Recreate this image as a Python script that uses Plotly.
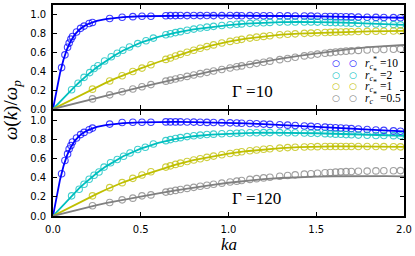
import plotly.graph_objects as go

# ---------------- data ----------------
# marker k*a positions shared above ka~0.6
X_HI = [0.643, 0.669, 0.698, 0.726, 0.764, 0.802, 0.839, 0.877, 0.915, 0.962,
        1.009, 1.047, 1.075, 1.122, 1.160, 1.200, 1.236, 1.292, 1.337, 1.380,
        1.432, 1.470, 1.507, 1.550, 1.580, 1.610, 1.640, 1.670, 1.700, 1.740,
        1.790, 1.840, 1.885, 1.940, 1.980]
X_LO_B = [0.049, 0.068, 0.083, 0.092, 0.102, 0.111, 0.134, 0.157, 0.177, 0.206,
          0.225, 0.323, 0.394, 0.455, 0.507, 0.558]
X_LO_C10 = [0.106, 0.143, 0.177, 0.209, 0.234, 0.256, 0.294, 0.332, 0.366, 0.398,
            0.436, 0.483, 0.530, 0.572]
X_LO_C120 = [0.106, 0.149, 0.177, 0.206, 0.234, 0.262, 0.291, 0.328, 0.366, 0.402,
             0.439, 0.483, 0.526, 0.572]
X_LO_YG = [0.225, 0.323, 0.394, 0.455, 0.507, 0.558]

# Gamma = 10 markers
b10_lo = [0.438, 0.573, 0.653, 0.697, 0.739, 0.767, 0.815, 0.853, 0.877, 0.905,
          0.915, 0.957, 0.971, 0.977, 0.981, 0.981]
b10_hi = [0.987, 0.988, 0.988, 0.989, 0.988, 0.989, 0.988, 0.989, 0.988, 0.988,
          0.989, 0.988, 0.987, 0.988, 0.987, 0.987, 0.986, 0.986, 0.985, 0.984,
          0.983, 0.982, 0.981, 0.979, 0.978, 0.977, 0.976, 0.975, 0.974, 0.972,
          0.971, 0.969, 0.968, 0.966, 0.965]
c10_lo = [0.204, 0.272, 0.335, 0.385, 0.428, 0.458, 0.508, 0.552, 0.590, 0.621,
          0.656, 0.692, 0.722, 0.750]
c10_hi = [0.785, 0.796, 0.808, 0.818, 0.833, 0.845, 0.856, 0.866, 0.874, 0.883,
          0.891, 0.896, 0.900, 0.906, 0.910, 0.913, 0.916, 0.919, 0.920, 0.921,
          0.921, 0.920, 0.919, 0.917, 0.916, 0.914, 0.912, 0.910, 0.908, 0.905,
          0.902, 0.899, 0.896, 0.893, 0.890]
y10_lo = [0.210, 0.297, 0.352, 0.397, 0.433, 0.468]
y10_hi = [0.525, 0.540, 0.560, 0.578, 0.600, 0.622, 0.642, 0.660, 0.678, 0.698,
          0.715, 0.728, 0.737, 0.750, 0.760, 0.768, 0.775, 0.785, 0.790, 0.795,
          0.800, 0.803, 0.806, 0.809, 0.811, 0.813, 0.815, 0.816, 0.817, 0.819,
          0.821, 0.822, 0.823, 0.825, 0.826]
g10_lo = [0.107, 0.150, 0.183, 0.212, 0.235, 0.258]
g10_hi = [0.295, 0.306, 0.318, 0.330, 0.345, 0.360, 0.374, 0.388, 0.402, 0.418,
          0.434, 0.447, 0.456, 0.471, 0.483, 0.495, 0.506, 0.522, 0.535, 0.548,
          0.562, 0.572, 0.581, 0.590, 0.596, 0.602, 0.607, 0.612, 0.616, 0.620,
          0.624, 0.627, 0.629, 0.632, 0.634]

# Gamma = 120 markers
b120_lo = [0.442, 0.581, 0.650, 0.702, 0.737, 0.775, 0.816, 0.852, 0.875, 0.903,
           0.920, 0.962, 0.979, 0.982, 0.982, 0.982]
b120_hi = [0.985, 0.985, 0.985, 0.985, 0.984, 0.983, 0.982, 0.980, 0.979, 0.977,
           0.975, 0.973, 0.971, 0.968, 0.965, 0.962, 0.959, 0.955, 0.951, 0.947,
           0.942, 0.938, 0.934, 0.930, 0.927, 0.924, 0.921, 0.918, 0.915, 0.911,
           0.906, 0.901, 0.896, 0.891, 0.887]
c120_lo = [0.211, 0.280, 0.332, 0.384, 0.426, 0.460, 0.512, 0.557, 0.592, 0.626,
           0.660, 0.696, 0.720, 0.754]
c120_hi = [0.789, 0.800, 0.811, 0.820, 0.831, 0.840, 0.847, 0.853, 0.857, 0.861,
           0.864, 0.867, 0.869, 0.871, 0.872, 0.873, 0.873, 0.873, 0.872, 0.871,
           0.869, 0.867, 0.865, 0.862, 0.860, 0.857, 0.855, 0.852, 0.850, 0.847,
           0.845, 0.843, 0.842, 0.841, 0.840]
y120_lo = [0.211, 0.297, 0.349, 0.394, 0.429, 0.463]
y120_hi = [0.512, 0.525, 0.540, 0.553, 0.570, 0.586, 0.600, 0.614, 0.627, 0.641,
           0.655, 0.665, 0.672, 0.683, 0.691, 0.698, 0.704, 0.711, 0.716, 0.720,
           0.723, 0.725, 0.726, 0.727, 0.728, 0.728, 0.728, 0.728, 0.728, 0.728,
           0.727, 0.727, 0.726, 0.725, 0.724]
g120_lo = [0.107, 0.141, 0.169, 0.187, 0.211, 0.221]
g120_hi = [0.250, 0.258, 0.268, 0.277, 0.289, 0.300, 0.311, 0.322, 0.332, 0.344,
           0.356, 0.365, 0.372, 0.383, 0.391, 0.399, 0.406, 0.416, 0.424, 0.431,
           0.438, 0.443, 0.448, 0.453, 0.456, 0.459, 0.462, 0.464, 0.466, 0.468,
           0.470, 0.472, 0.473, 0.474, 0.475]

# theory curves
LX = [0, 0.01, 0.02, 0.03, 0.04, 0.06, 0.08, 0.10, 0.125, 0.15, 0.175, 0.2, 0.25,
      0.3, 0.35, 0.4, 0.5, 0.6, 0.7, 0.8, 0.9, 1.0, 1.1, 1.2, 1.3, 1.4, 1.5, 1.6,
      1.7, 1.8, 1.9, 2.0]
lb10 = [0, 0.102, 0.201, 0.294, 0.380, 0.524, 0.634, 0.716, 0.789, 0.839, 0.874,
        0.899, 0.932, 0.951, 0.963, 0.972, 0.981, 0.986, 0.988, 0.988, 0.989, 0.989,
        0.988, 0.987, 0.986, 0.984, 0.981, 0.978, 0.975, 0.971, 0.968, 0.965]
lc10 = [0, 0.020, 0.039, 0.059, 0.079, 0.117, 0.156, 0.193, 0.239, 0.283, 0.326,
        0.366, 0.442, 0.509, 0.567, 0.619, 0.702, 0.763, 0.809, 0.843, 0.868, 0.888,
        0.902, 0.912, 0.918, 0.921, 0.920, 0.916, 0.910, 0.903, 0.896, 0.889]
ly10 = [0, 0.0095, 0.019, 0.028, 0.038, 0.057, 0.076, 0.095, 0.118, 0.142, 0.165,
        0.188, 0.233, 0.277, 0.318, 0.358, 0.430, 0.497, 0.562, 0.620, 0.670, 0.712,
        0.745, 0.768, 0.786, 0.797, 0.805, 0.812, 0.817, 0.821, 0.824, 0.827]
lg10 = [0, 0.0048, 0.0096, 0.0144, 0.019, 0.029, 0.038, 0.048, 0.060, 0.071, 0.083,
        0.095, 0.118, 0.141, 0.164, 0.186, 0.231, 0.275, 0.318, 0.359, 0.398, 0.435,
        0.470, 0.503, 0.534, 0.563, 0.590, 0.615, 0.637, 0.655, 0.668, 0.677]
lb120 = [0, 0.102, 0.201, 0.294, 0.380, 0.524, 0.634, 0.716, 0.789, 0.839, 0.874,
         0.899, 0.932, 0.951, 0.963, 0.972, 0.981, 0.985, 0.985, 0.983, 0.980, 0.976,
         0.970, 0.962, 0.954, 0.945, 0.935, 0.925, 0.915, 0.905, 0.895, 0.886]
lc120 = [0, 0.020, 0.040, 0.060, 0.080, 0.120, 0.160, 0.199, 0.246, 0.291, 0.334,
         0.374, 0.450, 0.517, 0.575, 0.625, 0.706, 0.765, 0.807, 0.835, 0.852, 0.862,
         0.868, 0.872, 0.872, 0.870, 0.866, 0.861, 0.855, 0.849, 0.844, 0.840]
ly120 = [0, 0.0095, 0.019, 0.028, 0.038, 0.057, 0.076, 0.095, 0.118, 0.142, 0.165,
         0.188, 0.232, 0.275, 0.315, 0.353, 0.420, 0.483, 0.538, 0.584, 0.622, 0.654,
         0.678, 0.697, 0.711, 0.720, 0.726, 0.728, 0.728, 0.727, 0.725, 0.723]
lg120 = [0, 0.0048, 0.0096, 0.0144, 0.019, 0.029, 0.038, 0.048, 0.060, 0.071, 0.083,
         0.095, 0.115, 0.135, 0.153, 0.171, 0.206, 0.238, 0.268, 0.298, 0.324, 0.348,
         0.368, 0.385, 0.398, 0.407, 0.413, 0.416, 0.418, 0.418, 0.417, 0.415]

LABELS = ["10", "2", "1", "0.5"]
COLORS = ["#0000ff", "#00bfbf", "#bfbf00", "#808080"]
GAMMA_LABELS = ["Γ =10", "Γ =120"]

panels = [
    dict(xa="x", ya="y",
         markers=[(X_LO_B + X_HI, b10_lo + b10_hi), (X_LO_C10 + X_HI, c10_lo + c10_hi),
                  (X_LO_YG + X_HI, y10_lo + y10_hi), (X_LO_YG + X_HI, g10_lo + g10_hi)],
         lines=[lb10, lc10, ly10, lg10]),
    dict(xa="x2", ya="y2",
         markers=[(X_LO_B + X_HI, b120_lo + b120_hi), (X_LO_C120 + X_HI, c120_lo + c120_hi),
                  (X_LO_YG + X_HI, y120_lo + y120_hi), (X_LO_YG + X_HI, g120_lo + g120_hi)],
         lines=[lb120, lc120, ly120, lg120]),
]

fig = go.Figure()
for p in panels:
    for i, col in enumerate(COLORS):
        fig.add_trace(go.Scatter(x=LX, y=p["lines"][i], mode="lines",
                                 line=dict(color=col, width=1.8),
                                 xaxis=p["xa"], yaxis=p["ya"], showlegend=False,
                                 hoverinfo="skip"))
    for i, col in enumerate(COLORS):
        mx, my = p["markers"][i]
        fig.add_trace(go.Scatter(x=mx, y=my, mode="markers",
                                 marker=dict(symbol="circle-open", size=6.5, color=col,
                                             line=dict(width=1.1, color=col), opacity=0.75),
                                 xaxis=p["xa"], yaxis=p["ya"], showlegend=False))

axis_common = dict(range=[0, 2], showline=True, linecolor="black", linewidth=1.6,
                   mirror="ticks", ticks="inside", ticklen=4, tickwidth=1,
                   tickcolor="black", showgrid=False, zeroline=False,
                   tickfont=dict(family="DejaVu Sans", size=10, color="black"))
yaxis_common = dict(range=[0, 1.1], showline=True, linecolor="black", linewidth=1.6,
                    mirror="ticks", ticks="inside", ticklen=4, tickwidth=1,
                    tickcolor="black", showgrid=False, zeroline=False,
                    tickvals=[0, 0.2, 0.4, 0.6, 0.8, 1.0],
                    ticktext=["0.0", "0.2", "0.4", "0.6", "0.8", "1.0"],
                    tickfont=dict(family="DejaVu Sans", size=10, color="black"),
                    ticklabelstandoff=3)

fig.update_layout(
    width=415, height=256,
    margin=dict(l=53, r=9, t=3, b=40),
    paper_bgcolor="white", plot_bgcolor="white",
    xaxis=dict(**axis_common, anchor="y", domain=[0, 1], showticklabels=False,
               tickvals=[0, 0.5, 1.0, 1.5, 2.0], matches="x2"),
    xaxis2=dict(**axis_common, anchor="y2", domain=[0, 1],
                tickvals=[0, 0.5, 1.0, 1.5, 2.0],
                ticktext=["0.0", "0.5", "1.0", "1.5", "2.0"], ticklabelstandoff=3),
    yaxis=dict(**yaxis_common, domain=[0.507, 1.0], anchor="x"),
    yaxis2=dict(**yaxis_common, domain=[0.0, 0.498], anchor="x2"),
    showlegend=False,
)

# legend (drawn as text: two circles + label per entry)
PLOT_W, PLOT_H, X0, Y_BOTTOM = 353.0, 213.0, 53.0, 216.0
for i, (lab, col) in enumerate(zip(LABELS, COLORS)):
    ypx = 61.5 + 11.7 * i
    yp = (Y_BOTTOM - ypx) / PLOT_H
    for cx in (338.0, 354.5):
        fig.add_annotation(text="○", xref="paper", yref="paper",
                           x=(cx - X0) / PLOT_W, y=yp, xanchor="center", yanchor="middle",
                           showarrow=False,
                           font=dict(family="DejaVu Sans", size=9, color=col))
    fig.add_annotation(text="<i>r</i><sub><i>c</i></sub><sup>*</sup> =" + lab,
                       xref="paper", yref="paper", x=(364.5 - X0) / PLOT_W, y=yp,
                       xanchor="left", yanchor="middle", showarrow=False,
                       font=dict(family="Liberation Serif", size=11.5, color="black"))

fig.add_annotation(text=GAMMA_LABELS[0], xref="paper", yref="paper", x=0.504, y=0.588,
                   xanchor="left", yanchor="middle", showarrow=False,
                   font=dict(family="Liberation Serif", size=17, color="black"))
fig.add_annotation(text=GAMMA_LABELS[1], xref="paper", yref="paper", x=0.504, y=0.085,
                   xanchor="left", yanchor="middle", showarrow=False,
                   font=dict(family="Liberation Serif", size=17, color="black"))
fig.add_annotation(text="<i>ka</i>", xref="paper", yref="paper", x=0.5, y=-0.137,
                   xanchor="center", yanchor="middle", showarrow=False,
                   font=dict(family="Liberation Serif", size=17, color="black"))
fig.add_annotation(text="<i>ω</i>(<i>k</i>)/<i>ω</i><sub><i>p</i></sub>",
                   xref="paper", yref="paper", x=-0.118, y=0.5, textangle=-90,
                   xanchor="center", yanchor="middle", showarrow=False,
                   font=dict(family="Liberation Serif", size=19, color="black"))

fig.write_html("out.html", config={"displayModeBar": False},
               post_script="document.body.style.margin='0px';document.body.style.padding='0px';")
